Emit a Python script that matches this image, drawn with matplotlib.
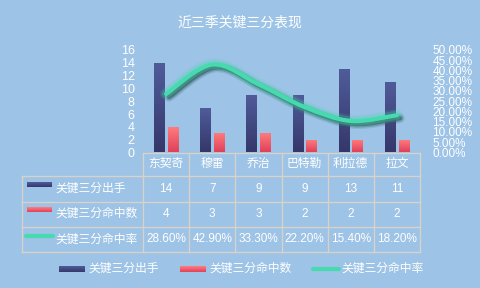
import numpy as np
import matplotlib.pyplot as plt
from matplotlib.path import Path
from matplotlib.patches import PathPatch
from matplotlib.colors import LinearSegmentedColormap
import matplotlib.transforms as mtransforms

plt.rcParams['font.family'] = ['Liberation Sans', 'Noto Sans CJK SC', 'DejaVu Sans']

players = ['东契奇', '穆雷', '乔治', '巴特勒', '利拉德', '拉文']
attempts = [14, 7, 9, 9, 13, 11]
made = [4, 3, 3, 2, 2, 2]
pct = [28.6, 42.9, 33.3, 22.2, 15.4, 18.2]
series_names = ['关键三分出手', '关键三分命中数', '关键三分命中率']
title = '近三季关键三分表现'

bg = '#9DC3E6'
navy_top, navy_bot = '#505C9A', '#35376A'
red_top, red_bot = '#FF7E7E', '#E0405A'
green = '#45DBAE'
grid_c = '#D8D2CC'

W, H = 480, 288
fig = plt.figure(figsize=(4.8, 2.88), dpi=100, facecolor=bg)

# plot area in pixels
L, R, B, T = 143, 420, 152.5, 50
ax = fig.add_axes([L / W, 1 - B / H, (R - L) / W, (B - T) / H])
ax.set_facecolor('none')


def grad_fill(axis, x0, x1, y0, y1, top, bottom, clip=None, z=2):
    cmap = LinearSegmentedColormap.from_list('g', [bottom, top])
    im = axis.imshow(np.linspace(0, 1, 64).reshape(-1, 1), cmap=cmap, origin='lower',
                     extent=[x0, x1, y0, y1], aspect='auto', interpolation='bilinear', zorder=z)
    if clip is not None:
        im.set_clip_path(clip)
    return im


x = np.arange(len(players))
w = 0.23
b1 = ax.bar(x - 0.145, attempts, w, color='none', zorder=2)
b2 = ax.bar(x + 0.15, made, w, color='none', zorder=2)
for bars, top, bot in [(b1, navy_top, navy_bot), (b2, red_top, red_bot)]:
    for p in bars:
        grad_fill(ax, p.get_x(), p.get_x() + p.get_width(), 0, p.get_height(), top, bot, clip=p)

ax.set_xlim(-0.5, len(players) - 0.5)
ax.set_ylim(0, 16)
ax.set_yticks(range(0, 17, 2))
ax.set_xticks([])
ax.tick_params(axis='y', length=0, pad=6, labelsize=9, labelcolor='white')
for s in ax.spines.values():
    s.set_visible(False)

# rate line on secondary axis, smoothed with bezier segments
ax2 = ax.twinx()
ax2.set_ylim(0, 50)
ax2.set_yticks(np.arange(0, 50.1, 5))
ax2.set_yticklabels([f'{v:.2f}%' for v in np.arange(0, 50.1, 5)])
ax2.tick_params(axis='y', length=0, pad=9, labelsize=8.5, labelcolor='white')
for s in ax2.spines.values():
    s.set_visible(False)

P = np.column_stack([x, pct]).astype(float)
verts = [P[0]]
codes = [Path.MOVETO]
n = len(P)
for i in range(n - 1):
    p0 = P[max(i - 1, 0)]
    p3 = P[min(i + 2, n - 1)]
    c1 = P[i] + (P[i + 1] - p0) / 6
    c2 = P[i + 1] - (p3 - P[i]) / 6
    verts += [c1, c2, P[i + 1]]
    codes += [Path.CURVE4] * 3
path = Path(verts, codes)

shadow_tr = ax2.transData + mtransforms.ScaledTranslation(3 / 100, -3 / 100, fig.dpi_scale_trans)
for lw, a in [(7, 0.15), (5, 0.3)]:
    ax2.add_patch(PathPatch(path, fill=False, edgecolor='#2F5560', lw=lw, alpha=a,
                            transform=shadow_tr, capstyle='round'))
ax2.add_patch(PathPatch(path, fill=False, edgecolor='#3B6469', lw=3, alpha=0.85,
                        transform=shadow_tr, capstyle='round'))
for lw, a in [(9, 0.12), (6.5, 0.25)]:
    ax2.add_patch(PathPatch(path, fill=False, edgecolor=green, lw=lw, alpha=a, capstyle='round'))
ax2.add_patch(PathPatch(path, fill=False, edgecolor=green, lw=3, capstyle='round'))

# title
fig.text(240 / W, 1 - 23 / H, title, ha='center', va='center', color='white', fontsize=10)

# data table drawn in pixel coordinates
ov = fig.add_axes([0, 0, 1, 1])
ov.set_xlim(0, W)
ov.set_ylim(H, 0)
ov.axis('off')

cols = L + (R - L) / len(players) * np.arange(len(players) + 1)
rows = [152.5, 176, 201.5, 226.5, 252]
left = 22
lk = dict(color=grid_c, lw=1)
ov.plot([L, R], [rows[0], rows[0]], **lk)
for yv in rows[1:]:
    ov.plot([left, R], [yv, yv], **lk)
for xv in cols:
    ov.plot([xv, xv], [rows[0], rows[-1]], **lk)
ov.plot([left, left], [rows[1], rows[-1]], **lk)

fs = 8.5
for i, name in enumerate(players):
    cx = (cols[i] + cols[i + 1]) / 2
    ov.text(cx, (rows[0] + rows[1]) / 2, name, ha='center', va='center', color='white', fontsize=fs)
    ov.text(cx, (rows[1] + rows[2]) / 2, str(attempts[i]), ha='center', va='center', color='white', fontsize=fs)
    ov.text(cx, (rows[2] + rows[3]) / 2, str(made[i]), ha='center', va='center', color='white', fontsize=fs)
    ov.text(cx, (rows[3] + rows[4]) / 2, f'{pct[i]:.2f}%', ha='center', va='center', color='white', fontsize=fs)

for r in range(3):
    cy = (rows[r + 1] + rows[r + 2]) / 2
    ov.text(55, cy, series_names[r], ha='left', va='center', color='white', fontsize=fs)
    ky = cy - 4
    if r == 0:
        grad_fill(ov, 27, 52, ky + 2.5, ky - 2.5, navy_top, navy_bot)
    elif r == 1:
        grad_fill(ov, 27, 52, ky + 2.5, ky - 2.5, red_top, red_bot)
    else:
        ov.plot([26, 53], [ky + 0.5, ky + 0.5], color=green, lw=3, solid_capstyle='round')

# bottom legend
ly = 269
grad_fill(ov, 59, 85, ly + 2.8, ly - 2.8, navy_top, navy_bot)
ov.text(88, ly, series_names[0], ha='left', va='center', color='white', fontsize=fs)
grad_fill(ov, 180, 206, ly + 2.8, ly - 2.8, red_top, red_bot)
ov.text(209, ly, series_names[1], ha='left', va='center', color='white', fontsize=fs)
ov.plot([313, 339], [ly, ly], color=green, lw=3, solid_capstyle='round')
ov.text(341, ly, series_names[2], ha='left', va='center', color='white', fontsize=fs)
ov.set_xlim(0, W)
ov.set_ylim(H, 0)

fig.savefig('out.png', dpi=100, facecolor=bg)
